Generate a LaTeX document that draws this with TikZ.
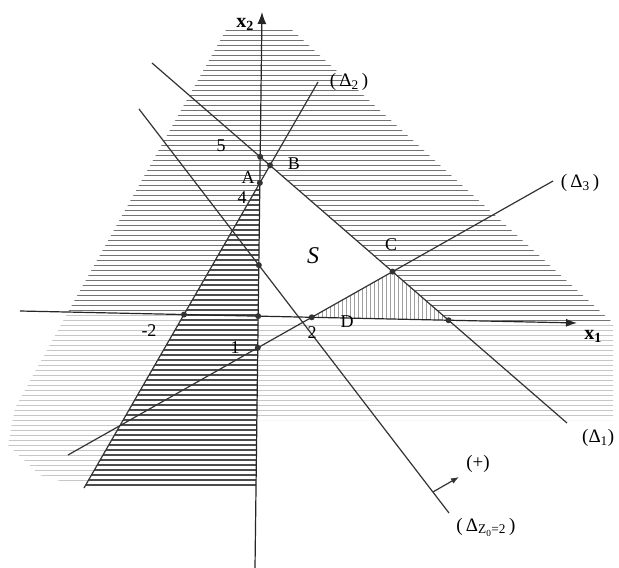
\documentclass[tikz,border=0pt]{standalone}
\usepackage{fontspec}
\setmainfont{Liberation Serif}
\usetikzlibrary{arrows.meta,calc}
\begin{document}
\begin{tikzpicture}[x=1pt,y=-1pt,
  ln/.style={line width=1.2pt, draw=black!80},
  axisline/.style={line width=1.2pt, draw=black!85},
  hmed/.style={line width=1pt, draw=black!55},
  hdense/.style={line width=1.2pt, draw=black!70},
  hfaint/.style={line width=0.8pt, draw=black!22},
  vhatch/.style={line width=0.7pt, draw=black!38},
  dot/.style={circle, fill=black!80, inner sep=0pt, minimum size=6pt},
  lbl/.style={font=\fontsize{18}{20}\selectfont, inner sep=0pt},
  dlbl/.style={font=\fontsize{19}{21}\selectfont, inner sep=0pt},
  axlbl/.style={font=\fontsize{20}{22}\selectfont\bfseries, inner sep=0pt}
]
\fill[white] (0,0) rectangle (619,568);
\useasboundingbox (0,0) rectangle (619,568);

% line end points
\coordinate (Y2B) at (255,568);
\coordinate (Y2T) at (262,12);
\coordinate (X1L) at (20,311);
\coordinate (X1R) at (577,323);
\coordinate (L1a) at (152,63);
\coordinate (L1b) at (567,423);
\coordinate (L2a) at (84,488);
\coordinate (L2b) at (318,82);
\coordinate (L3a) at (68,455);
\coordinate (L3b) at (553,181);
\coordinate (LZa) at (139,109);
\coordinate (LZb) at (449,513);

% intersection points
\coordinate (O)  at (intersection of X1L--X1R and Y2B--Y2T);
\coordinate (A)  at (intersection of L2a--L2b and Y2B--Y2T);
\coordinate (P5) at (intersection of L1a--L1b and Y2B--Y2T);
\coordinate (B)  at (intersection of L1a--L1b and L2a--L2b);
\coordinate (C)  at (intersection of L1a--L1b and L3a--L3b);
\coordinate (E)  at (intersection of L1a--L1b and X1L--X1R);
\coordinate (D)  at (intersection of L3a--L3b and X1L--X1R);
\coordinate (P1) at (intersection of L3a--L3b and Y2B--Y2T);
\coordinate (M2) at (intersection of L2a--L2b and X1L--X1R);
\coordinate (P2) at (intersection of LZa--LZb and Y2B--Y2T);

% medium hatching (big region)
\begin{scope}
  \clip (226,30) -- (292,30) -- (613,323) -- (68,312) -- cycle;
  \foreach \yy in {30,35,...,330} \draw[hmed] (0,\yy) -- (619,\yy);
\end{scope}
% faint hatching left-bottom
\begin{scope}
  \clip (68,312) -- (M2) -- (L2a) -- (40,475) -- (8,445) -- (15,408) -- cycle;
  \foreach \yy in {315,320,...,480} \draw[hfaint] (0,\yy) -- (619,\yy);
\end{scope}
% faint hatching right-bottom
\begin{scope}
  \clip (O) -- (613,324) -- (613,420) -- (257,420) -- cycle;
  \foreach \yy in {325,330,...,420} \draw[hfaint] (0,\yy) -- (619,\yy);
\end{scope}
% dense strip between Delta2 and x2 axis
\begin{scope}
  \clip (A) -- (256,488) -- (L2a) -- cycle;
  \foreach \yy in {185,190,...,490} \draw[hdense] (0,\yy) -- (619,\yy);
\end{scope}

% feasible region S
\fill[white] (A) -- (B) -- (C) -- (D) -- (O) -- cycle;
% vertical hatched triangle
\fill[white] (C) -- (D) -- (E) -- cycle;
\begin{scope}
  \clip (C) -- (D) -- (E) -- cycle;
  \foreach \xx in {310,314,...,450} \draw[vhatch] (\xx,260) -- (\xx,330);
\end{scope}

% lines
\draw[ln] (L1a) -- (L1b);
\draw[ln] (L2a) -- (L2b);
\draw[ln] (L3a) -- (L3b);
\draw[ln] (LZa) -- (LZb);
\draw[axisline,-{Latex[length=12pt,width=9pt]}] (Y2B) -- (Y2T);
\draw[axisline,-{Latex[length=11pt,width=8pt]}] (X1L) -- (X1R);

% direction arrow
\coordinate (Pp) at ($(LZa)!0.948!(LZb)$);
\coordinate (Pq) at (459,477);
\draw[ln,-{Latex[length=8pt,width=6pt]}] (Pp) -- (Pq);

% dots
\foreach \p in {O,A,P5,B,C,E,D,P1,M2,P2} \node[dot] (d\p) at (\p) {};

% labels
\node[lbl] (l5) at (221,146) {5};
\node[lbl] (lA) at (248,178) {A};
\node[lbl] (l4) at (242,198) {4};
\node[lbl] (lB) at (294,164) {B};
\node[lbl] (lC) at (391,245) {C};
\node[lbl] (lD) at (347,322) {D};
\node[lbl] (l1) at (235,348) {1};
\node[lbl] (lm2) at (149,331) {-2};
\node[lbl] (l2) at (312,333) {2};
\node[font=\fontsize{24}{26}\selectfont\itshape, inner sep=0pt] (lS) at (313,256) {S};
\node[axlbl] (lx2) at (245,24) {x\textsubscript{2}};
\node[axlbl] (lx1) at (593,336) {x\textsubscript{1}};
\node[dlbl] (lD2) at (349,82) {(\,Δ\textsubscript{2}\,)};
\node[dlbl] (lD3) at (580,183) {(\,Δ\textsubscript{3}\,)};
\node[dlbl, anchor=west] (lD1) at (582,438) {(Δ\textsubscript{1})};
\node[dlbl] (lplus) at (478,464) {(+)};
\node[dlbl] (lDZ) at (486,527) {(\,Δ\textsubscript{Z\textsubscript{0}=2}\,)};
\end{tikzpicture}
\end{document}
